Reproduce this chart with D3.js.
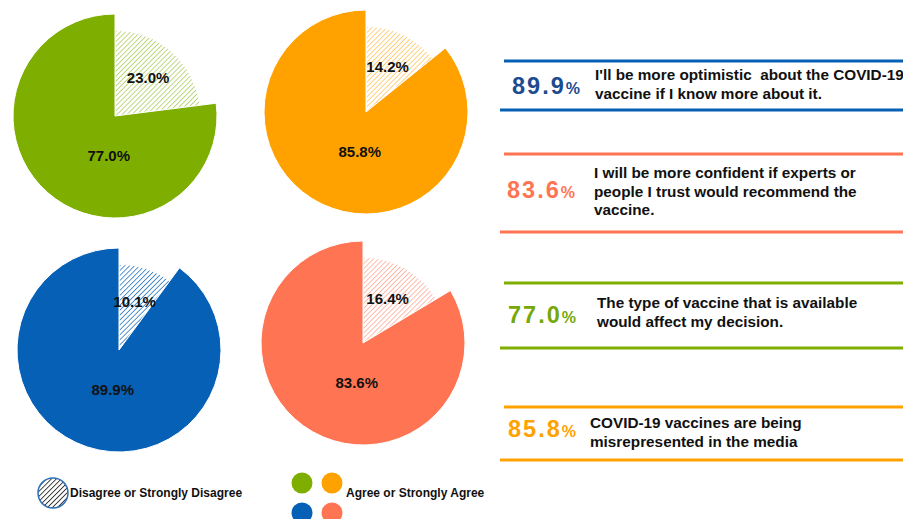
<!DOCTYPE html>
<html>
<head>
<meta charset="utf-8">
<script src="https://cdn.jsdelivr.net/npm/d3@7"></script>
<style>
  body { margin: 0; background: #fff; }
  svg { display: block; font-family: "Liberation Sans", Arial, sans-serif; }
  .stmt { white-space: pre; }
</style>
</head>
<body>
<svg id="chart"></svg>
<script>
// pie data (one pie per statement)
let pieKeys = ["type", "media", "know", "experts"];
let agreeValues = [77.0, 85.8, 89.9, 83.6];
let disagreeValues = [23.0, 14.2, 10.1, 16.4];
let pieColors = ["#7eaf00", "#ffa200", "#0660b6", "#ff7554"];

// statement panels on the right
let statementValues = [89.9, 83.6, 77.0, 85.8];
let statementColors = ["#0660b6", "#ff7554", "#7eaf00", "#ffa200"];
let numberColors = ["#1c4c8f", "#ff7554", "#76a80a", "#ffa200"];
let statementLines = [
    ["I'll be more optimistic  about the COVID-19", "vaccine if I know more about it."],
    ["I will be more confident if experts or", "people I trust would recommend the", "vaccine."],
    ["The type of vaccine that is available", "would affect my decision."],
    ["COVID-19 vaccines are being", "misrepresented in the media"]
];

let legendLabels = ["Disagree or Strongly Disagree", "Agree or Strongly Agree"];

function createChart() {
    let w = 903, h = 519;
    let svg = d3.select("#chart").attr("width", w).attr("height", h);

    // hatch patterns, one per colour
    let defs = svg.append("defs");
    pieColors.concat(["#333333"]).forEach((c, i) => {
        let p = defs.append("pattern")
            .attr("id", "hatch" + i)
            .attr("patternUnits", "userSpaceOnUse")
            .attr("width", 3.5).attr("height", 3.5)
            .attr("patternTransform", "rotate(45)");
        p.append("rect").attr("width", 3.5).attr("height", 3.5).attr("fill", "#fff");
        p.append("line")
            .attr("x1", 0).attr("y1", 0).attr("x2", 0).attr("y2", 3.5)
            .attr("stroke", c)
            .attr("stroke-width", i == 4 ? 1.8 : 1.5)
            .attr("stroke-opacity", i == 4 ? 1 : (i == 2 ? 0.9 : 0.65));
    });

    // pies
    let centres = [[115, 116], [366, 112], [119, 350], [363, 343]];
    let R = 102;
    let pie = d3.pie().sort(null).value(d => d.value);
    let arcAgree = d3.arc().innerRadius(0).outerRadius(R);
    let arcDis = d3.arc().innerRadius(0).outerRadius(R * 0.84);

    pieKeys.forEach((k, i) => {
        let data = [
            {type: "dis", value: disagreeValues[i]},
            {type: "agree", value: agreeValues[i]}
        ];
        let arcs = pie(data);
        let g = svg.append("g")
            .attr("transform", `translate(${centres[i][0]},${centres[i][1]})`);

        g.selectAll("path")
            .data(arcs)
            .enter()
            .append("path")
            .attr("d", d => d.data.type == "dis" ? arcDis(d) : arcAgree(d))
            .attr("fill", d => d.data.type == "dis" ? `url(#hatch${i})` : pieColors[i])
            .attr("stroke", "#fff")
            .attr("stroke-width", 1);

        // labels: disagree on the slice middle, agree just below the centre
        g.selectAll("text")
            .data(arcs)
            .enter()
            .append("text")
            .attr("transform", d => {
                let a, r;
                if (d.data.type == "dis") { a = (d.startAngle + d.endAngle) / 2; r = 50; }
                else { a = Math.PI * 1.05; r = 40; }
                return `translate(${r * Math.sin(a)},${-r * Math.cos(a) + 5})`;
            })
            .attr("text-anchor", "middle")
            .attr("font-size", "15px")
            .attr("font-weight", "bold")
            .attr("fill", "#111")
            .text(d => d.data.value.toFixed(1) + "%");
    });

    // statement panels
    let panels = [
        {top: 61, bottom: 110, numX: 512, numY: 94, textX: 595, textY: 80},
        {top: 154, bottom: 232, numX: 507, numY: 198, textX: 594, textY: 178},
        {top: 283, bottom: 348, numX: 508, numY: 323, textX: 597, textY: 308},
        {top: 407, bottom: 460, numX: 508, numY: 437, textX: 590, textY: 428}
    ];
    panels.forEach((p, i) => {
        let g = svg.append("g");
        [p.top, p.bottom].forEach((y, j) => {
            g.append("line")
                .attr("x1", j == 0 ? 504 : 500).attr("x2", w)
                .attr("y1", y).attr("y2", y)
                .attr("stroke", statementColors[i])
                .attr("stroke-width", 3.2);
        });
        let num = g.append("text")
            .attr("x", p.numX).attr("y", p.numY)
            .attr("font-weight", "bold")
            .attr("fill", numberColors[i]);
        num.append("tspan").attr("font-size", "23.5px").attr("letter-spacing", "2px")
            .text(statementValues[i].toFixed(1));
        num.append("tspan").attr("font-size", "16px").text("%");

        g.selectAll("text.stmt")
            .data(statementLines[i])
            .enter()
            .append("text")
            .attr("class", "stmt")
            .attr("x", p.textX)
            .attr("y", (d, j) => p.textY + j * 18.5)
            .attr("font-size", "15.3px")
            .attr("font-weight", "bold")
            .attr("fill", "#111")
            .text(d => d);
    });

    // legend
    let lg = svg.append("g");
    lg.append("circle")
        .attr("cx", 53).attr("cy", 493).attr("r", 15)
        .attr("fill", "url(#hatch4)")
        .attr("stroke", "#2f70b8").attr("stroke-width", 1.5);
    lg.append("text")
        .attr("x", 70).attr("y", 497)
        .attr("font-size", "12px").attr("font-weight", "bold").attr("fill", "#111")
        .text(legendLabels[0]);

    let dotPos = [[302, 483], [332, 483], [302, 513], [332, 513]];
    lg.selectAll("circle.dot")
        .data(pieColors)
        .enter()
        .append("circle")
        .attr("class", "dot")
        .attr("cx", (d, i) => dotPos[i][0])
        .attr("cy", (d, i) => dotPos[i][1])
        .attr("r", 10.5)
        .attr("fill", d => d);
    lg.append("text")
        .attr("x", 346).attr("y", 497)
        .attr("font-size", "12px").attr("font-weight", "bold").attr("fill", "#111")
        .text(legendLabels[1]);
}

window.onload = function() {
    createChart();
}
</script>
</body>
</html>
